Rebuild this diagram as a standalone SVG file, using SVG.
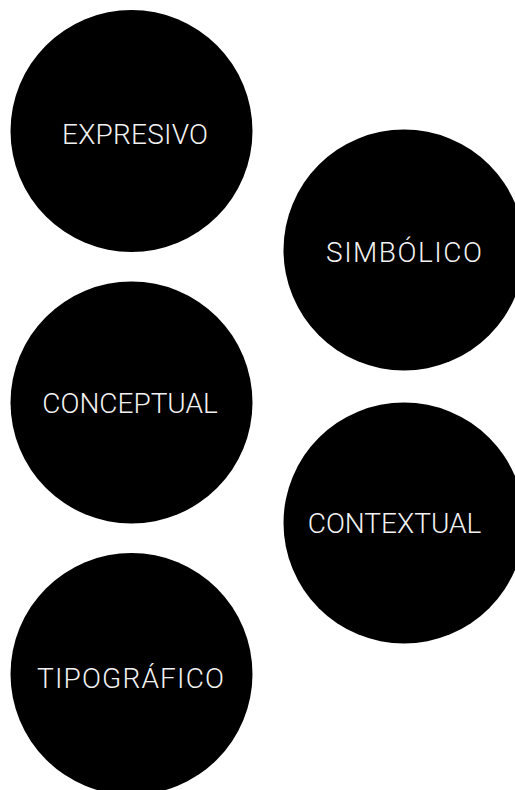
<svg xmlns="http://www.w3.org/2000/svg" width="515" height="790" viewBox="0 0 515 790">
<style>
.c{fill:#000}
.m{font-family:Roboto,"Liberation Sans",sans-serif;font-weight:300;font-size:28px;fill:#f2f2f2}
.s{font-family:Roboto,"Liberation Sans",sans-serif;font-weight:300;font-size:28px;fill:#f2f2f2;text-anchor:middle}
</style>
<rect width="515" height="790" fill="#fff"/>
<g id="connectors"/>
<g id="expresivo"><circle class="c" cx="131.5" cy="131" r="121"/><text class="m" x="62" y="144" textLength="146" lengthAdjust="spacing">EXPRESIVO</text></g>
<g id="simbolico"><circle class="c" cx="404" cy="250" r="120.5"/><text class="m" x="326" y="262" textLength="156" lengthAdjust="spacing">SIMBÓLICO</text></g>
<g id="conceptual"><circle class="c" cx="131.5" cy="402.5" r="121"/><text class="s" x="130" y="413">CONCEPTUAL</text></g>
<g id="contextual"><circle class="c" cx="404" cy="523" r="120.5"/><text class="s" x="394.5" y="533">CONTEXTUAL</text></g>
<g id="tipografico"><circle class="c" cx="131.5" cy="674" r="121"/><text class="m" x="37" y="688" textLength="187" lengthAdjust="spacing">TIPOGRÁFICO</text></g>
</svg>
